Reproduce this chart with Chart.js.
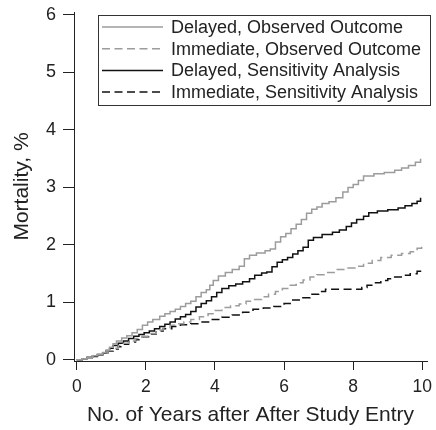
<!DOCTYPE html>
<html>
<head>
<meta charset="utf-8">
<script src="https://cdn.jsdelivr.net/npm/chart.js@4.4.1/dist/chart.umd.min.js"></script>
<style>
  body { margin: 0; background: #fff; }
  canvas { display: block; }
</style>
</head>
<body>
<canvas id="kmChart" width="436" height="430"></canvas>
<script>
// Datos (años desde la entrada, mortalidad %)
const seriesNames = [
    'Delayed, Observed Outcome',
    'Immediate, Observed Outcome',
    'Delayed, Sensitivity Analysis',
    'Immediate, Sensitivity Analysis'
];

const delayedObsT = [0, 0.15, 0.3, 0.45, 0.6, 0.75, 0.85, 0.95, 1.05, 1.15, 1.3, 1.45, 1.6, 1.75, 1.9, 2.05, 2.2, 2.4, 2.55, 2.7, 2.85, 3.0, 3.15, 3.3, 3.45, 3.6, 3.75, 3.85, 3.95, 4.1, 4.3, 4.5, 4.7, 4.85, 5.0, 5.2, 5.45, 5.6, 5.75, 5.9, 6.05, 6.2, 6.35, 6.5, 6.65, 6.8, 6.95, 7.1, 7.3, 7.5, 7.7, 7.85, 8.0, 8.15, 8.3, 8.6, 8.9, 9.2, 9.4, 9.6, 9.8, 9.95];
const delayedObsV = [0, 0.02, 0.04, 0.07, 0.1, 0.13, 0.17, 0.22, 0.28, 0.33, 0.38, 0.42, 0.47, 0.53, 0.6, 0.66, 0.7, 0.76, 0.8, 0.84, 0.88, 0.93, 0.98, 1.02, 1.1, 1.17, 1.22, 1.3, 1.38, 1.46, 1.52, 1.57, 1.63, 1.76, 1.82, 1.86, 1.9, 1.93, 2.05, 2.14, 2.2, 2.28, 2.36, 2.44, 2.55, 2.62, 2.66, 2.72, 2.75, 2.82, 2.92, 3.0, 3.05, 3.12, 3.2, 3.24, 3.26, 3.3, 3.34, 3.38, 3.44, 3.5];

const immedObsT = [0, 0.15, 0.3, 0.45, 0.6, 0.75, 0.9, 1.05, 1.2, 1.35, 1.5, 1.7, 1.9, 2.1, 2.3, 2.5, 2.7, 2.9, 3.1, 3.3, 3.55, 3.8, 4.0, 4.2, 4.45, 4.7, 4.9, 5.1, 5.35, 5.55, 5.75, 5.95, 6.15, 6.35, 6.55, 6.75, 6.95, 7.2, 7.45, 7.75, 8.05, 8.3, 8.55, 8.8, 9.1, 9.4, 9.65, 9.85, 9.98];
const immedObsV = [0, 0.02, 0.04, 0.06, 0.09, 0.12, 0.16, 0.2, 0.25, 0.29, 0.33, 0.37, 0.41, 0.46, 0.52, 0.56, 0.6, 0.63, 0.66, 0.7, 0.75, 0.8, 0.86, 0.91, 0.94, 0.97, 1.02, 1.05, 1.1, 1.14, 1.19, 1.24, 1.3, 1.34, 1.39, 1.44, 1.48, 1.52, 1.57, 1.6, 1.63, 1.68, 1.73, 1.78, 1.82, 1.85, 1.88, 1.94, 2.01];

const delayedSensT = [0, 0.15, 0.3, 0.45, 0.6, 0.75, 0.85, 0.95, 1.05, 1.2, 1.35, 1.5, 1.65, 1.8, 1.95, 2.1, 2.25, 2.4, 2.55, 2.7, 2.85, 3.0, 3.15, 3.3, 3.45, 3.6, 3.75, 3.9, 4.05, 4.2, 4.4, 4.6, 4.8, 5.0, 5.15, 5.35, 5.5, 5.65, 5.8, 5.95, 6.1, 6.25, 6.4, 6.55, 6.7, 6.85, 7.1, 7.4, 7.6, 7.8, 7.95, 8.1, 8.3, 8.45, 8.7, 9.0, 9.3, 9.5, 9.7, 9.85, 9.95];
const delayedSensV = [0, 0.02, 0.04, 0.06, 0.09, 0.12, 0.16, 0.2, 0.25, 0.29, 0.33, 0.37, 0.41, 0.44, 0.47, 0.5, 0.54, 0.58, 0.62, 0.66, 0.71, 0.75, 0.79, 0.84, 0.92, 0.98, 1.03, 1.1, 1.17, 1.24, 1.29, 1.32, 1.36, 1.41, 1.47, 1.51, 1.53, 1.62, 1.7, 1.74, 1.78, 1.84, 1.9, 1.96, 2.08, 2.13, 2.18, 2.22, 2.26, 2.32, 2.38, 2.44, 2.5, 2.56, 2.59, 2.61, 2.64, 2.68, 2.72, 2.76, 2.82];

const immedSensT = [0, 0.15, 0.3, 0.45, 0.6, 0.75, 0.9, 1.05, 1.2, 1.35, 1.5, 1.7, 1.9, 2.1, 2.3, 2.5, 2.75, 3.0, 3.3, 3.6, 3.9, 4.2, 4.5, 4.8, 5.1, 5.4, 5.7, 6.0, 6.25, 6.5, 6.75, 7.0, 7.2, 8.25, 8.4, 8.6, 8.8, 9.0, 9.2, 9.45, 9.65, 9.85, 9.98];
const immedSensV = [0, 0.02, 0.04, 0.06, 0.09, 0.12, 0.15, 0.19, 0.23, 0.27, 0.31, 0.35, 0.4, 0.45, 0.5, 0.54, 0.58, 0.61, 0.63, 0.66, 0.7, 0.74, 0.78, 0.83, 0.88, 0.9, 0.93, 0.98, 1.04, 1.08, 1.14, 1.19, 1.23, 1.26, 1.3, 1.34, 1.38, 1.41, 1.44, 1.47, 1.5, 1.54, 1.58];

const xTicks = [0, 2, 4, 6, 8, 10];
const yTicks = [0, 1, 2, 3, 4, 5, 6];

const FONT = 'Liberation Sans, Arial, Helvetica, sans-serif';
const GRIS = '#9c9c9c';
const NEGRO = '#111';

function puntos(ts, vs) {
    return ts.map((t, i) => ({ x: t, y: vs[i] }));
}

// Leyenda con marco dentro del área de la gráfica
const leyendaMarco = {
    id: 'leyendaMarco',
    afterDraw(chart) {
        const c = chart.ctx;
        const x0 = 98.5, y0 = 15.5, x1 = 430.5, y1 = 105.5;
        c.save();
        c.strokeStyle = '#333';
        c.lineWidth = 1;
        c.setLineDash([]);
        c.strokeRect(x0, y0, x1 - x0, y1 - y0);
        chart.data.datasets.forEach((ds, i) => {
            const y = 27 + i * 21.7;
            c.beginPath();
            c.strokeStyle = ds.borderColor;
            c.lineWidth = ds.borderWidth;
            c.setLineDash(ds.borderDash || []);
            c.moveTo(102, y);
            c.lineTo(163, y);
            c.stroke();
            c.setLineDash([]);
            c.fillStyle = '#222';
            c.font = '18px ' + FONT;
            c.textBaseline = 'middle';
            c.fillText(ds.label, 171, y + 1);
        });
        c.restore();
    }
};

const ctx = document.getElementById('kmChart').getContext('2d');

const kmChart = new Chart(ctx, {
    type: 'line',
    data: {
        datasets: [
            { label: seriesNames[0], data: puntos(delayedObsT, delayedObsV), borderColor: GRIS, borderWidth: 1.5 },
            { label: seriesNames[1], data: puntos(immedObsT, immedObsV), borderColor: GRIS, borderWidth: 1.5, borderDash: [8, 4.5] },
            { label: seriesNames[2], data: puntos(delayedSensT, delayedSensV), borderColor: NEGRO, borderWidth: 1.5 },
            { label: seriesNames[3], data: puntos(immedSensT, immedSensV), borderColor: NEGRO, borderWidth: 1.5, borderDash: [8, 4.5] }
        ]
    },
    options: {
        responsive: false,
        animation: false,
        devicePixelRatio: 1,
        layout: { padding: { left: 0, right: 9, top: 12, bottom: 0 } },
        elements: {
            line: { stepped: true, fill: false, tension: 0 },
            point: { radius: 0 }
        },
        plugins: {
            legend: { display: false },
            tooltip: { enabled: false }
        },
        scales: {
            x: {
                type: 'linear',
                min: -0.08,
                max: 10.136,
                afterBuildTicks(scale) { scale.ticks = xTicks.map(v => ({ value: v })); },
                afterFit(scale) {
                    scale.height = 69;
                    scale.paddingLeft = 0;
                    scale.paddingRight = 0;
                },
                grid: { drawOnChartArea: false, drawTicks: true, tickLength: 9, color: '#222' },
                border: { display: true, color: '#222', width: 1 },
                ticks: { color: '#222', padding: 7, maxRotation: 0, font: { family: FONT, size: 17.5 } },
                title: {
                    display: true,
                    text: 'No. of Years after After Study Entry',
                    color: '#222',
                    font: { family: FONT, size: 21 },
                    padding: { top: 0, bottom: 2 }
                }
            },
            y: {
                type: 'linear',
                min: -0.02,
                max: 6.052,
                afterBuildTicks(scale) { scale.ticks = yTicks.map(v => ({ value: v })); },
                afterFit(scale) {
                    scale.width = 74;
                    scale.paddingTop = 0;
                    scale.paddingBottom = 0;
                },
                grid: { drawOnChartArea: false, drawTicks: true, tickLength: 11, color: '#222' },
                border: { display: true, color: '#222', width: 1 },
                ticks: { color: '#222', padding: 7, font: { family: FONT, size: 18 } },
                title: {
                    display: true,
                    text: 'Mortality, %',
                    color: '#222',
                    font: { family: FONT, size: 21 },
                    padding: { top: 10, bottom: 0 }
                }
            }
        }
    },
    plugins: [leyendaMarco]
});
</script>
</body>
</html>
